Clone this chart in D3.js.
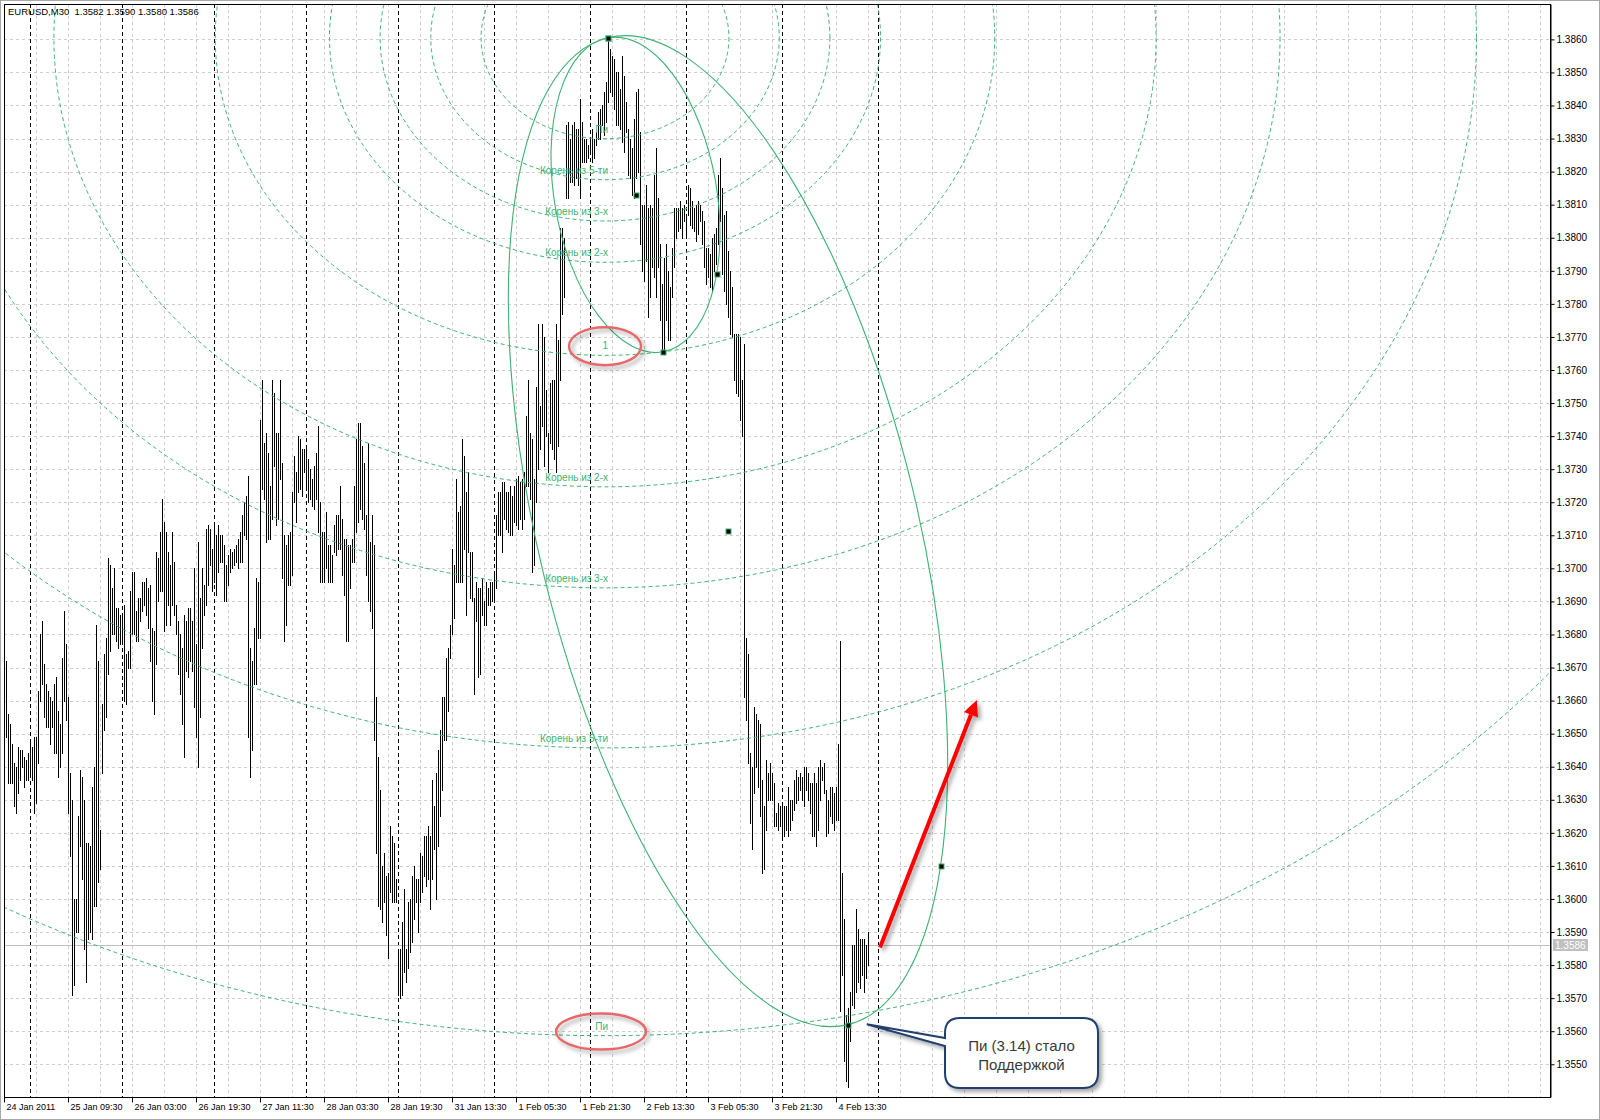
<!DOCTYPE html>
<html><head><meta charset="utf-8">
<script src="https://cdn.jsdelivr.net/npm/d3@7"></script>
<style>
html,body{margin:0;padding:0;background:#fff;}
svg{display:block;}
text{font-family:"Liberation Sans",Arial,sans-serif;}
</style></head><body>
<svg id="chart" width="1600" height="1120"></svg>
<script>
// ---------------- DATA ----------------
const header = "EURUSD,M30  1.3582 1.3590 1.3580 1.3586";
// bar highs / lows, in pips above 1.0000 (3672 -> 1.3672), one per M30 bar
const highs = [
3672,3656,3653,3647,3641,3640,3646,3645,3645,3643,3642,3644,3648,3646,3649,3649,
3663,3680,3684,3671,3665,3663,3661,3660,3665,3667,3657,3653,3673,3687,3677,3661,
3638,3630,3600,3600,3625,3639,3637,3630,3617,3617,3616,3634,3640,3683,3672,3621,
3659,3674,3679,3703,3701,3694,3700,3688,3688,3686,3686,3689,3674,3675,3693,3699,
3699,3687,3691,3691,3696,3696,3697,3694,3695,3682,3681,3705,3703,3711,3721,3714,
3711,3705,3701,3711,3702,3689,3684,3680,3676,3686,3684,3688,3688,3684,3700,3677,
3708,3691,3700,3695,3712,3713,3712,3706,3713,3710,3713,3710,3710,3707,3701,3704,
3706,3705,3706,3707,3709,3711,3716,3720,3722,3728,3676,3672,3682,3697,3696,3745,
3757,3738,3741,3735,3725,3757,3753,3741,3741,3757,3732,3710,3707,3710,3711,3723,
3734,3729,3740,3739,3736,3736,3736,3733,3730,3727,3731,3735,3743,3720,3711,3711,
3717,3707,3707,3704,3713,3716,3716,3725,3715,3709,3709,3707,3707,3709,3725,3739,
3744,3744,3737,3732,3716,3738,3708,3716,3707,3661,3643,3633,3610,3614,3607,3608,
3622,3619,3617,3606,3584,3585,3593,3603,3585,3599,3600,3607,3610,3606,3606,3614,
3613,3619,3619,3622,3619,3636,3628,3638,3645,3651,3661,3661,3673,3676,
3683,3706,3701,3727,3717,3719,3739,3734,3723,3729,3705,3705,3691,3696,3694,3694,
3697,3690,3696,3694,3696,3696,3698,3716,3723,3723,3726,3726,3723,3723,3725,3722,
3725,3727,3728,3726,3727,3729,3746,3757,3741,3739,3727,3755,3774,3749,3774,3770,
3754,3741,3756,3757,3757,3774,3769,3803,3803,3800,3834,3835,3830,3834,3835,3833,
3833,3842,3835,3830,3830,3828,3830,3833,3830,3832,3838,3839,3840,3844,3847,3861,
3857,3855,3854,3850,3850,3845,3855,3849,3841,3833,3830,3827,3836,3844,3845,3832,
3810,3810,3816,3809,3810,3809,3819,3827,3812,3798,3786,3794,3798,3790,3785,3797,
3809,3809,3809,3811,3809,3810,3807,3816,3815,3811,3809,3810,3811,3810,3808,3805,
3797,3797,3795,3800,3801,3803,3819,3824,3815,3807,3808,3796,3790,3785,3771,3771,
3771,3770,3757,3768,
3679,3674,3644,3640,3658,3656,3654,3653,3636,3628,3642,3638,3641,3638,3635,3626,
3629,3628,3629,3628,3628,3634,3630,3630,3636,3639,3637,3638,3637,3640,3640,3638,
3635,3635,3638,3635,3640,3642,3640,3641,3633,3630,3634,3634,3632,3634,3647,3678,
3608,3594,3565,3567,3572,3586,3586,3597,3591,3588,3588,3588,3586,3590
];
const lows = [
3649,3635,3635,3635,3628,3626,3632,3636,3640,3634,3636,3636,3637,3636,3626,3629,
3641,3660,3665,3655,3652,3652,3647,3652,3644,3644,3637,3640,3644,3660,3654,3626,
3613,3571,3574,3590,3590,3616,3606,3585,3575,3588,3590,3588,3598,3598,3605,3609,
3638,3651,3655,3668,3675,3680,3680,3678,3676,3677,3677,3660,3659,3670,3670,3680,
3680,3678,3678,3684,3687,3689,3686,3682,3672,3660,3656,3671,3690,3693,3693,3681,
3683,3689,3683,3689,3686,3680,3668,3662,3653,3643,3669,3667,3672,3669,3658,3649,
3640,3655,3676,3686,3689,3695,3701,3693,3696,3692,3699,3702,3702,3690,3690,3695,
3699,3700,3701,3702,3700,3702,3702,3710,3709,3649,3637,3645,3665,3665,3679,3679,
3724,3721,3708,3709,3709,3715,3731,3713,3715,3727,3697,3678,3683,3695,3695,3698,
3720,3714,3723,3724,3722,3729,3725,3720,3721,3719,3718,3721,3711,3696,3696,3696,
3700,3696,3696,3696,3705,3704,3706,3706,3698,3692,3678,3678,3694,3702,3702,3711,
3714,3718,3715,3712,3698,3690,3687,3682,3648,3614,3598,3597,3593,3599,3589,3582,
3602,3599,3599,3599,3571,3570,3571,3578,3575,3579,3584,3587,3594,3599,3590,3599,
3602,3607,3604,3606,3597,3606,3615,3600,3616,3625,3633,3648,3648,3657,
3673,3680,3685,3696,3696,3696,3696,3706,3686,3705,3691,3690,3662,3684,3667,3668,
3686,3683,3683,3689,3689,3690,3690,3694,3710,3710,3705,3715,3712,3711,3710,3710,
3714,3713,3712,3715,3712,3715,3725,3725,3721,3699,3701,3720,3730,3736,3743,3731,
3740,3729,3738,3736,3733,3729,3737,3757,3777,3782,3812,3812,3817,3817,3816,3818,
3816,3812,3823,3823,3823,3824,3826,3823,3824,3828,3830,3830,3834,3831,3835,3841,
3844,3843,3839,3834,3834,3833,3829,3826,3832,3819,3818,3813,3812,3818,3820,3798,
3790,3787,3793,3776,3782,3791,3788,3782,3791,3775,3765,3766,3775,3769,3769,3782,
3791,3800,3802,3803,3800,3805,3801,3807,3804,3803,3802,3799,3801,3805,3798,3791,
3786,3788,3785,3784,3790,3792,3798,3805,3789,3784,3780,3776,3771,3770,3757,3753,
3752,3745,3740,3661,
3654,3641,3623,3615,3632,3640,3634,3625,3608,3609,3621,3630,3630,3630,3622,3622,
3621,3622,3619,3619,3621,3619,3621,3624,3627,3629,3630,3633,3630,3628,3633,3630,
3626,3619,3619,3616,3621,3630,3636,3632,3619,3620,3625,3623,3621,3624,3624,3566,
3577,3551,3545,3543,3557,3568,3567,3572,3575,3573,3577,3572,3576,3580
];
const priceTicks = [1.3550,1.3560,1.3570,1.3580,1.3590,1.3600,1.3610,1.3620,1.3630,1.3640,
  1.3650,1.3660,1.3670,1.3680,1.3690,1.3700,1.3710,1.3720,1.3730,1.3740,1.3750,1.3760,
  1.3770,1.3780,1.3790,1.3800,1.3810,1.3820,1.3830,1.3840,1.3850,1.3860];
const timeLabels = ["24 Jan 2011","25 Jan 09:30","26 Jan 03:00","26 Jan 19:30","27 Jan 11:30",
  "28 Jan 03:30","28 Jan 19:30","31 Jan 13:30","1 Feb 05:30","1 Feb 21:30","2 Feb 13:30",
  "3 Feb 05:30","3 Feb 21:30","4 Feb 13:30"];
const timeLabelBars = [-1,31,63,95,127,159,191,223,255,287,319,351,383,415];
const daySeparatorBars = [12,58,104,150,196,244,292,340,388,436];
const lastPrice = 1.3586;

const fiboLevels = [0.318,0.447,0.577,0.707,1,1.414,1.732,2.236,3.142];
const fiboLabels = ["Пи","Корень из 5-ти","Корень из 3-х","Корень из 2-х","1",
  "Корень из 2-х","Корень из 3-х","Корень из 5-ти","Пи"];
const fiboCenter = {bar:299.5, price:1.38605};
const fiboAnchor = {bar:328.5, price:1.37655};
const fiboPipsPerBar = 0.493;

const ellipses = [
  {p1:{bar:301, price:1.38605}, p2:{bar:328.5, price:1.37655}, edge:{bar:355.3, price:1.3789}},
  {p1:{bar:301, price:1.38605}, p2:{bar:421, price:1.3562}, edge:{bar:467.3, price:1.3610}}
];
const redMarks = [
  {bar:299.5, price:1.37672, rx:36, ry:19},
  {bar:297.5, price:1.35599, rx:45, ry:18}
];
const arrow = {from:{bar:437, price:1.35853}, to:{bar:485.4, price:1.36602}};
const callout = {tip:{bar:430.4, price:1.35621}, lines:["Пи (3.14) стало","Поддержкой"]};

// ---------------- DRAW ----------------
const W = 1600, H = 1120;
const plot = {left:4, top:4, right:1550, bottom:1097};
const GREEN = "#3cb371";
const svg = d3.select("#chart");
const defs = svg.append("defs");
defs.append("clipPath").attr("id","plotClip").append("rect")
  .attr("x",plot.left).attr("y",plot.top)
  .attr("width",plot.right-plot.left).attr("height",plot.bottom-plot.top);
const f = defs.append("filter").attr("id","shadow")
  .attr("x","-30%").attr("y","-30%").attr("width","160%").attr("height","160%");
f.append("feDropShadow").attr("dx",3).attr("dy",3).attr("stdDeviation",2)
  .attr("flood-color","#000").attr("flood-opacity",0.35);

svg.append("rect").attr("width",W).attr("height",H).attr("fill","#fff");

const x = d3.scaleLinear().domain([-1,772]).range([plot.left,plot.right]);
const y = d3.scaleLinear().domain([1.35401,1.38707]).range([plot.bottom,plot.top]);
const px = v => Math.round(v)+0.5;

const bars = highs.map((h,i)=>({i, high:1+h/1e4, low:1+lows[i]/1e4}));

const plotG = svg.append("g").attr("clip-path","url(#plotClip)");

// grid
const gridBars = d3.range(-1,772,16);
plotG.append("g").selectAll("line").data(priceTicks).join("line")
  .attr("x1",plot.left).attr("x2",plot.right)
  .attr("y1",d=>px(y(d))).attr("y2",d=>px(y(d)))
  .attr("stroke","#cdcdcd").attr("stroke-dasharray","3,3");
plotG.append("g").selectAll("line").data(gridBars).join("line")
  .attr("y1",plot.top).attr("y2",plot.bottom)
  .attr("x1",d=>px(x(d))).attr("x2",d=>px(x(d)))
  .attr("stroke","#cdcdcd").attr("stroke-dasharray","3,3");

// day separators
plotG.append("g").selectAll("line").data(daySeparatorBars).join("line")
  .attr("y1",plot.top).attr("y2",plot.bottom)
  .attr("x1",d=>px(x(d))).attr("x2",d=>px(x(d)))
  .attr("stroke","#000").attr("stroke-dasharray","4,3");

// last price line
plotG.append("line").attr("x1",plot.left).attr("x2",plot.right)
  .attr("y1",px(y(lastPrice))).attr("y2",px(y(lastPrice)))
  .attr("stroke","#c0c0c0");

// bars
plotG.append("g").selectAll("line").data(bars).join("line")
  .attr("x1",d=>px(x(d.i))).attr("x2",d=>px(x(d.i)))
  .attr("y1",d=>Math.round(y(d.high))).attr("y2",d=>Math.round(y(d.low))+1)
  .attr("stroke","#000").attr("stroke-width",1);

// fibonacci arcs
const cx = x(fiboCenter.bar), cy = y(fiboCenter.price);
const dP = (fiboCenter.price-fiboAnchor.price)*1e4;
const dB = (fiboAnchor.bar-fiboCenter.bar)*fiboPipsPerBar;
const rPips = Math.hypot(dP,dB);
const ry1 = y(fiboCenter.price - rPips/1e4) - cy;
const rx1 = x(fiboCenter.bar + rPips/fiboPipsPerBar) - cx;
plotG.append("g").selectAll("ellipse").data(fiboLevels).join("ellipse")
  .attr("cx",cx).attr("cy",cy).attr("rx",d=>rx1*d).attr("ry",d=>ry1*d)
  .attr("fill","none").attr("stroke",GREEN).attr("stroke-dasharray","4,3");
plotG.append("g").selectAll("text").data(fiboLevels).join("text")
  .attr("x",cx+3).attr("y",d=>cy+ry1*d-6)
  .attr("text-anchor","end").attr("font-size",10).attr("fill",GREEN)
  .text((d,i)=>fiboLabels[i]);

// ellipses
const handles = [];
ellipses.forEach(e=>{
  const p1=[x(e.p1.bar),y(e.p1.price)], p2=[x(e.p2.bar),y(e.p2.price)], q=[x(e.edge.bar),y(e.edge.price)];
  const m=[(p1[0]+p2[0])/2,(p1[1]+p2[1])/2];
  const a=Math.hypot(p2[0]-p1[0],p2[1]-p1[1])/2;
  const th=Math.atan2(p2[1]-p1[1],p2[0]-p1[0]);
  const u=[Math.cos(th),Math.sin(th)], v=[-Math.sin(th),Math.cos(th)];
  const d=[q[0]-m[0],q[1]-m[1]];
  const du=d[0]*u[0]+d[1]*u[1], dv=d[0]*v[0]+d[1]*v[1];
  const b=Math.abs(dv)/Math.sqrt(Math.max(0.05,1-(du/a)*(du/a)));
  plotG.append("ellipse").attr("cx",m[0]).attr("cy",m[1]).attr("rx",a).attr("ry",b)
    .attr("transform",`rotate(${th*180/Math.PI},${m[0]},${m[1]})`)
    .attr("fill","none").attr("stroke",GREEN).attr("stroke-width",1.1);
  handles.push(p1,p2,m,q);
});
plotG.append("g").selectAll("rect").data(handles).join("rect")
  .attr("x",d=>Math.round(d[0])-2).attr("y",d=>Math.round(d[1])-2)
  .attr("width",5).attr("height",5).attr("fill","#000").attr("stroke",GREEN).attr("stroke-width",1);

// red highlight ellipses
plotG.append("g").attr("filter","url(#shadow)").selectAll("ellipse").data(redMarks).join("ellipse")
  .attr("cx",d=>x(d.bar)).attr("cy",d=>y(d.price)).attr("rx",d=>d.rx).attr("ry",d=>d.ry)
  .attr("fill","none").attr("stroke","#e6686a").attr("stroke-width",2.4);

// red arrow
const a0=[x(arrow.from.bar),y(arrow.from.price)], a1=[x(arrow.to.bar),y(arrow.to.price)];
const ang=Math.atan2(a1[1]-a0[1],a1[0]-a0[0]);
const hl=16, hw=7.5;
const base=[a1[0]-hl*Math.cos(ang),a1[1]-hl*Math.sin(ang)];
const ag=svg.append("g").attr("filter","url(#shadow)");
ag.append("line").attr("x1",a0[0]).attr("y1",a0[1]).attr("x2",base[0]).attr("y2",base[1])
  .attr("stroke","#ff0000").attr("stroke-width",4).attr("stroke-linecap","butt");
ag.append("polygon").attr("points",[
  a1,
  [base[0]+hw*Math.sin(ang),base[1]-hw*Math.cos(ang)],
  [base[0]-hw*Math.sin(ang),base[1]+hw*Math.cos(ang)]
].map(p=>p.join(",")).join(" ")).attr("fill","#ff0000");

// callout
const tip=[x(callout.tip.bar),y(callout.tip.price)];
const bx0=945, bx1=1098, by0=1018, by1=1088, r=15, w0=1038, w1=1046;
const cp = `M${bx0+r},${by0} H${bx1-r} Q${bx1},${by0} ${bx1},${by0+r} V${by1-r} Q${bx1},${by1} ${bx1-r},${by1} H${bx0+r} Q${bx0},${by1} ${bx0},${by1-r} V${w1} L${tip[0]},${tip[1]} L${bx0},${w0} V${by0+r} Q${bx0},${by0} ${bx0+r},${by0} Z`;
svg.append("path").attr("d",cp).attr("fill","#fff").attr("stroke","#22406e").attr("stroke-width",2)
  .attr("filter","url(#shadow)");
svg.append("g").selectAll("text").data(callout.lines).join("text")
  .attr("x",(bx0+bx1)/2).attr("y",(d,i)=>1051+i*19)
  .attr("text-anchor","middle").attr("font-size",15).attr("fill","#3a3a3a").text(d=>d);

// plot frame
svg.append("rect").attr("x",plot.left+0.5).attr("y",plot.top+0.5)
  .attr("width",plot.right-plot.left).attr("height",plot.bottom-plot.top)
  .attr("fill","none").attr("stroke","#000");

// price axis
const yAxis = svg.append("g").attr("transform",`translate(${plot.right+0.5},0)`)
  .call(d3.axisRight(y).tickValues(priceTicks).tickFormat(d3.format(".4f")).tickSize(4).tickSizeOuter(0).tickPadding(2));
yAxis.selectAll("text").attr("font-size",10).attr("font-family","Liberation Sans, Arial").attr("fill","#000");
yAxis.selectAll("line,path").attr("stroke","#000");

// last price label
const lp = svg.append("g");
lp.append("rect").attr("x",plot.right+3).attr("y",Math.round(y(lastPrice))-6).attr("width",35).attr("height",12).attr("fill","#c0c0c0");
lp.append("text").attr("x",plot.right+5).attr("y",y(lastPrice)+4).attr("font-size",10).attr("fill","#fff").text(d3.format(".4f")(lastPrice));

// time axis
const xAxis = svg.append("g").attr("transform",`translate(0,${plot.bottom+0.5})`)
  .call(d3.axisBottom(x).tickValues(timeLabelBars).tickFormat((d,i)=>timeLabels[i]).tickSize(5).tickSizeOuter(0).tickPadding(1));
xAxis.select(".domain").attr("stroke","none");
xAxis.selectAll("line").attr("stroke","#000");
xAxis.selectAll("text").attr("text-anchor","start").attr("dx",2).attr("font-size",9).attr("fill","#000");

// header
svg.append("text").attr("x",8).attr("y",15).attr("font-size",9.5).style("white-space","pre").attr("fill","#000").text(header);

// outer border
svg.append("rect").attr("x",0.5).attr("y",0.5).attr("width",W-1).attr("height",H-1).attr("fill","none").attr("stroke","#a8a8a8");
</script>
</body></html>
